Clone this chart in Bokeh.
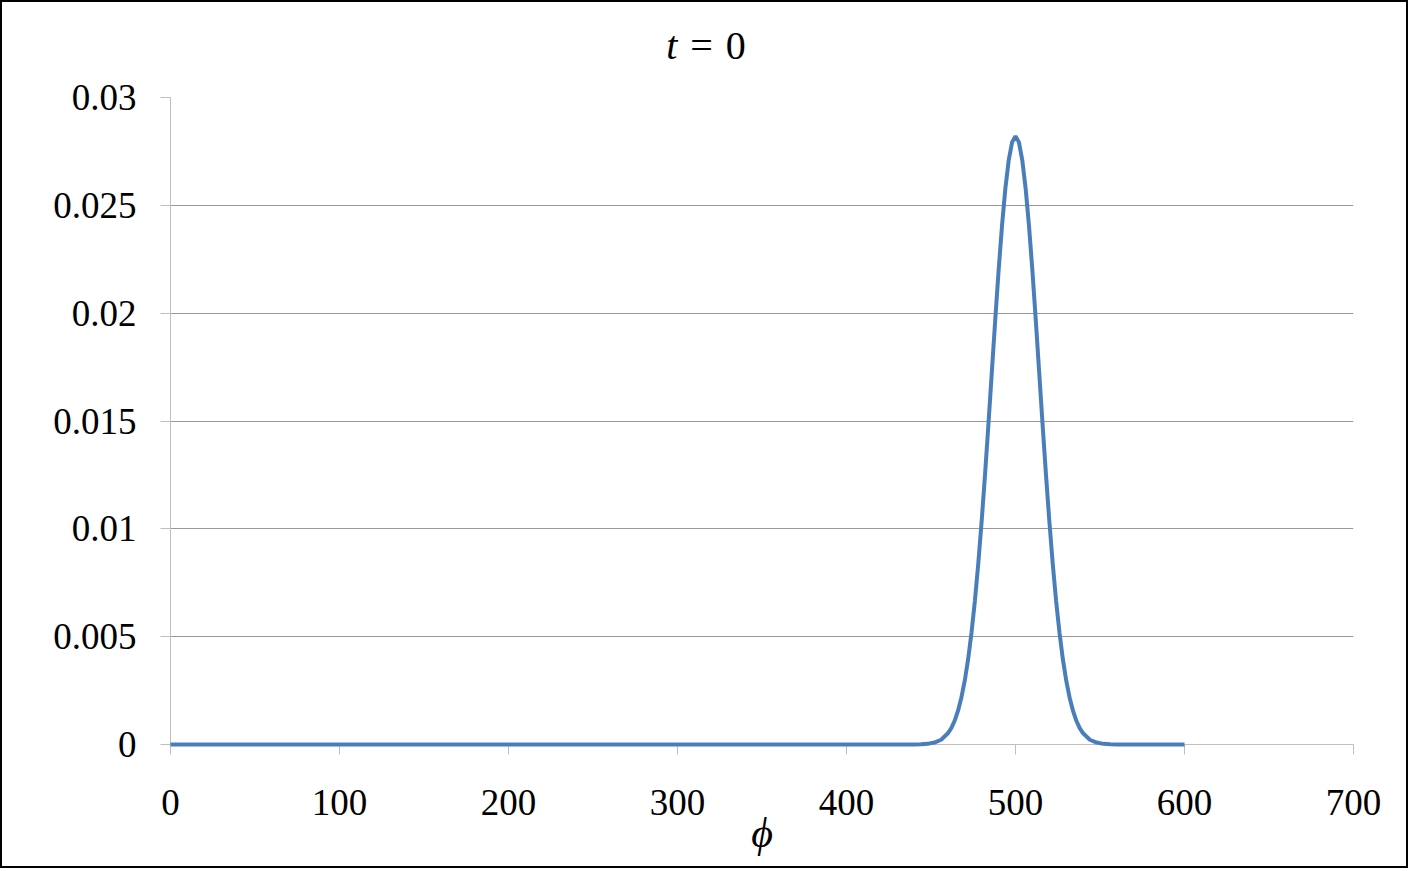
from bokeh.plotting import figure
from bokeh.models import Range1d, FixedTicker, Div
from bokeh.layouts import column
from bokeh.embed import file_html
from bokeh.resources import INLINE

# ---- data ----
phi = [0, 100, 200, 300, 400, 440, 444, 448, 452, 456, 460,
       462, 464, 466, 468, 470, 472, 474, 476, 478, 480,
       482, 484, 486, 488, 490, 492, 494, 496, 498, 500,
       502, 504, 506, 508, 510, 512, 514, 516, 518, 520,
       522, 524, 526, 528, 530, 532, 534, 536, 538, 540,
       544, 548, 552, 556, 560, 600]
density = [0, 0, 0, 0, 0, 0, 0.00001, 0.00003, 0.00009, 0.00022, 0.00052,
           0.00076, 0.00110, 0.00157, 0.00218, 0.00297, 0.00397, 0.00521, 0.00668, 0.00841, 0.01038,
           0.01255, 0.01487, 0.01728, 0.01968, 0.02197, 0.02404, 0.02578, 0.02710, 0.02793, 0.02821,
           0.02793, 0.02710, 0.02578, 0.02404, 0.02197, 0.01968, 0.01728, 0.01487, 0.01255, 0.01038,
           0.00841, 0.00668, 0.00521, 0.00397, 0.00297, 0.00218, 0.00157, 0.00110, 0.00076, 0.00052,
           0.00022, 0.00009, 0.00003, 0.00001, 0, 0]
x_ticks = [0, 100, 200, 300, 400, 500, 600, 700]
x_tick_labels = ["0", "100", "200", "300", "400", "500", "600", "700"]
y_ticks = [0, 0.005, 0.01, 0.015, 0.02, 0.025, 0.03]
y_tick_labels = ["0", "0.005", "0.01", "0.015", "0.02", "0.025", "0.03"]
title_var = "t"
title_rest = "= 0"
x_label = "ϕ"

FONT = "Liberation Serif"
W = 1404
TITLE_H = 66
FIG_H = 864 - TITLE_H
LEFT, RIGHT, TOP, BOTTOM = 168, 53, 95 - TITLE_H, 122

title = Div(
    text=(f'<div style="display:block;box-sizing:border-box;width:{W}px;height:{TITLE_H}px;'
          f'font-family:\'{FONT}\';font-size:40px;line-height:40px;word-spacing:3px;'
          f'color:#000;text-align:center;padding-top:24px;padding-left:4px;">'
          f'<i>{title_var}</i> {title_rest}</div>'),
    width=W, height=TITLE_H, margin=0)

p = figure(width=W, height=FIG_H, output_backend="svg", toolbar_location=None,
           x_range=Range1d(0, 700), y_range=Range1d(0, 0.03),
           min_border_left=LEFT, min_border_right=RIGHT, min_border_top=TOP,
           min_border_bottom=BOTTOM, margin=0)
p.outline_line_color = None
p.background_fill_color = "white"
p.border_fill_color = "white"

p.line(phi, density, line_color="#4a7ebb", line_width=4, level="overlay")

p.xgrid.visible = False
p.ygrid.grid_line_color = "#999999"
p.ygrid.ticker = FixedTicker(ticks=y_ticks)

for ax in (p.xaxis[0], p.yaxis[0]):
    ax.axis_line_color = "#bfbfbf"
    ax.major_tick_line_color = "#bfbfbf"
    ax.minor_tick_line_color = None
    ax.major_tick_in = 0
    ax.major_tick_out = 10
    ax.major_label_text_font = FONT
    ax.major_label_text_font_size = "37px"
    ax.major_label_text_color = "black"

p.xaxis[0].ticker = FixedTicker(ticks=x_ticks)
p.xaxis[0].major_label_overrides = {t: l for t, l in zip(x_ticks, x_tick_labels)}
p.xaxis[0].major_label_standoff = 35
p.xaxis[0].axis_label = x_label
p.xaxis[0].axis_label_text_font = FONT
p.xaxis[0].axis_label_text_font_style = "italic"
p.xaxis[0].axis_label_text_font_size = "42px"
p.xaxis[0].axis_label_text_color = "black"
p.xaxis[0].axis_label_standoff = -8

p.yaxis[0].ticker = FixedTicker(ticks=y_ticks)
p.yaxis[0].major_label_overrides = {t: l for t, l in zip(y_ticks, y_tick_labels)}
p.yaxis[0].major_label_standoff = 24

layout = column(title, p, spacing=0, margin=0)
layout.styles = {"border": "2px solid #000000", "background-color": "white"}

open("out.html", "w").write(file_html(layout, INLINE))
